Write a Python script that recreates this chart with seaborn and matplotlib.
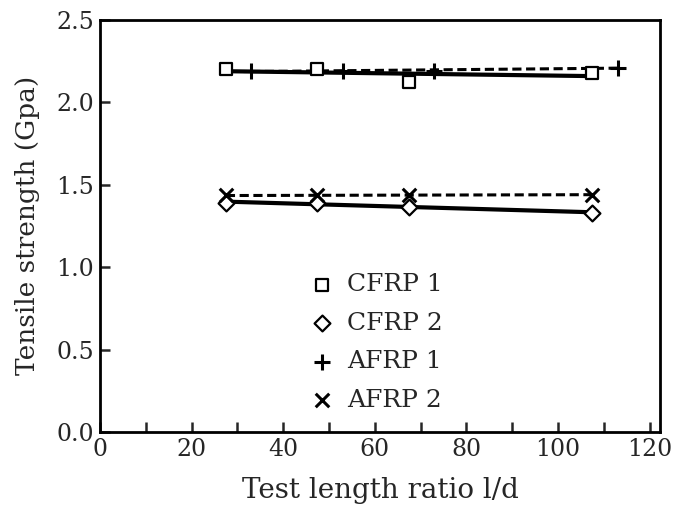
import numpy as np
import matplotlib
matplotlib.use("Agg")
import matplotlib.pyplot as plt
import seaborn as sns

# test length ratio l/d for each series
cfrp1_x = [27.5, 47.5, 67.5, 107.5]
cfrp1_y = [2.20, 2.20, 2.12, 2.18]

cfrp2_x = [27.5, 47.5, 67.5, 107.5]
cfrp2_y = [1.39, 1.39, 1.365, 1.33]

afrp1_x = [33, 53, 73, 113]
afrp1_y = [2.19, 2.19, 2.19, 2.21]

afrp2_x = [27.5, 47.5, 67.5, 107.5]
afrp2_y = [1.435, 1.435, 1.435, 1.44]

x_ticks = list(range(0, 121, 10))
y_ticks = [0.0, 0.5, 1.0, 1.5, 2.0, 2.5]

sns.set_style("ticks")
plt.rcParams["font.family"] = ["DejaVu Serif"]
plt.rcParams["axes.linewidth"] = 2.0

fig = plt.figure(figsize=(6.75, 5.07), dpi=100)
ax = fig.add_axes([0.148, 0.148, 0.83, 0.813])

# fitted lines
sns.regplot(x=cfrp1_x, y=cfrp1_y, ci=None, scatter=False, ax=ax,
            line_kws={"color": "k", "lw": 3.0, "ls": "-"})
sns.regplot(x=afrp1_x, y=afrp1_y, ci=None, scatter=False, ax=ax,
            line_kws={"color": "k", "lw": 2.2, "ls": (0, (3, 1.5))})
sns.regplot(x=cfrp2_x, y=cfrp2_y, ci=None, scatter=False, ax=ax,
            line_kws={"color": "k", "lw": 3.0, "ls": "-"})
sns.regplot(x=afrp2_x, y=afrp2_y, ci=None, scatter=False, ax=ax,
            line_kws={"color": "k", "lw": 2.2, "ls": (0, (3, 1.5))})

# markers
sns.scatterplot(x=cfrp1_x, y=cfrp1_y, marker="s", s=75, facecolor="white",
                edgecolor="k", linewidth=1.6, label="CFRP 1", ax=ax, zorder=5)
sns.scatterplot(x=cfrp2_x, y=cfrp2_y, marker="D", s=65, facecolor="white",
                edgecolor="k", linewidth=1.6, label="CFRP 2", ax=ax, zorder=5)
sns.scatterplot(x=afrp1_x, y=afrp1_y, marker="+", s=140, color="k",
                linewidth=2.2, label="AFRP 1", ax=ax, zorder=5)
sns.scatterplot(x=afrp2_x, y=afrp2_y, marker="x", s=95, color="k",
                linewidth=2.2, label="AFRP 2", ax=ax, zorder=5)

ax.set_xlim(0, 122.3)
ax.set_ylim(0, 2.5)
ax.set_xticks(x_ticks)
ax.set_xticklabels([str(t) if t % 20 == 0 else "" for t in x_ticks])
ax.set_yticks(y_ticks)
ax.set_yticklabels([f"{t:.1f}" for t in y_ticks])
ax.tick_params(direction="in", length=7, width=1.8, labelsize=17, pad=4)
for s in ax.spines.values():
    s.set_visible(True)
    s.set_color("k")

ax.set_xlabel("Test length ratio l/d", fontsize=20, labelpad=12)
ax.set_ylabel("Tensile strength (Gpa)", fontsize=19, labelpad=12)

ax.legend(loc="upper left", bbox_to_anchor=(0.33, 0.44), frameon=False,
          fontsize=18, labelspacing=0.62, handletextpad=0.4, handlelength=1.2)

fig.savefig("out.png", dpi=100)
